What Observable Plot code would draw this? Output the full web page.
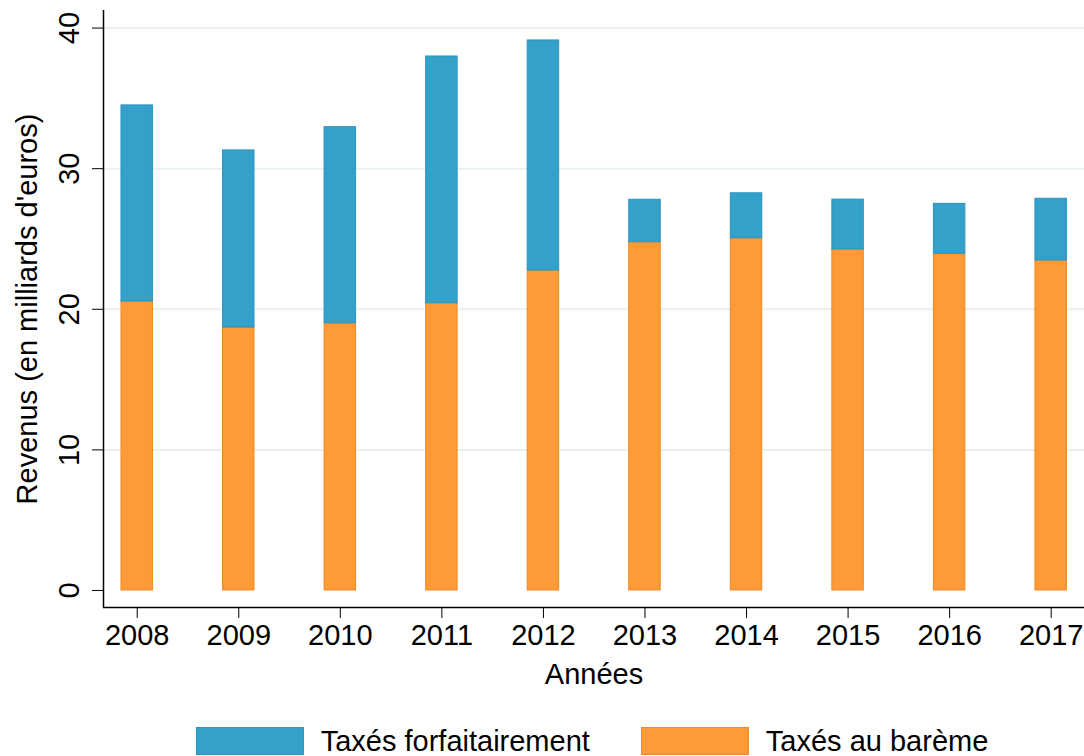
<!DOCTYPE html>
<html>
<head>
<meta charset="utf-8">
<script src="https://cdn.jsdelivr.net/npm/d3@7"></script>
<script src="https://cdn.jsdelivr.net/npm/@observablehq/plot@0.6"></script>
<style>
  body { margin: 0; background: #fff; font-family: "Liberation Sans", Arial, sans-serif; }
  #wrap { width: 1084px; }
  #legend { display: flex; justify-content: center; align-items: center; height: 30px; margin-top: 26px; font-size: 29px; color: #000; width: 1084px; padding-left: 100px; box-sizing: border-box; }
  .item { display: flex; align-items: center; }
  .sw { width: 108px; height: 28px; box-sizing: border-box; border: 1px solid; margin-right: 17px; }
  .item + .item { margin-left: 51px; }
</style>
</head>
<body>
<div id="wrap"></div>
<script>
const years = [2008, 2009, 2010, 2011, 2012, 2013, 2014, 2015, 2016, 2017];
const bareme = [20.55, 18.7, 19.0, 20.43, 22.76, 24.77, 25.05, 24.25, 23.95, 23.47];
const forfaitaire = [13.95, 12.6, 13.95, 17.55, 16.36, 3.02, 3.2, 3.55, 3.55, 4.39];
const yTicks = [0, 10, 20, 30, 40];
const seriesNames = ["Taxés forfaitairement", "Taxés au barème"];
const fillColors = ["#33a1c9", "#fe9a37"];
const strokeColors = ["#2a95c0", "#f08a22"];
const xTitle = "Années";
const yTitle = "Revenus (en milliards d'euros)";

const xDomain = [2007.668, 2017.328];
const yDomain = [-1.21, 41.25];
const halfWidth = 0.155;

const rows = years.map((year, i) => ({year, bareme: bareme[i], forfaitaire: forfaitaire[i]}));

const chart = Plot.plot({
  width: 1084,
  height: 700,
  marginTop: 10,
  marginBottom: 93,
  marginLeft: 103,
  marginRight: 0,
  style: {fontFamily: "'Liberation Sans', Arial, sans-serif", fontSize: "29px", color: "#000", background: "#fff"},
  x: {domain: xDomain},
  y: {domain: yDomain},
  marks: [
    Plot.ruleY(yTicks.filter(t => t > 0), {stroke: "#e8f0f2", strokeWidth: 2}),
    Plot.rectY(rows, {x1: d => d.year - halfWidth, x2: d => d.year + halfWidth, y1: 0, y2: "bareme", fill: fillColors[1], stroke: strokeColors[1], strokeWidth: 1}),
    Plot.rectY(rows, {x1: d => d.year - halfWidth, x2: d => d.year + halfWidth, y1: "bareme", y2: d => d.bareme + d.forfaitaire, fill: fillColors[0], stroke: strokeColors[0], strokeWidth: 1}),
    Plot.ruleY([yDomain[0]], {stroke: "#000", strokeWidth: 1.5}),
    Plot.ruleX([xDomain[0]], {stroke: "#000", strokeWidth: 1.5}),
    Plot.axisX({ticks: years, tickFormat: d => String(d), tickSize: 11, tickPadding: 6, label: null, stroke: "#000"}),
    Plot.axisY({ticks: yTicks, tickSize: 11, tickRotate: -90, tickPadding: 14, label: null, stroke: "#000"}),
    Plot.text([xTitle], {frameAnchor: "bottom", dy: 76, fontSize: 29, fill: "#000"}),
    Plot.text([yTitle], {frameAnchor: "left", dx: -76, rotate: -90, textAnchor: "middle", fontSize: 29, fill: "#000"})
  ]
});

const wrap = document.getElementById("wrap");
wrap.appendChild(chart);

const legend = document.createElement("div");
legend.id = "legend";
seriesNames.forEach((name, i) => {
  const item = document.createElement("div");
  item.className = "item";
  const sw = document.createElement("div");
  sw.className = "sw";
  sw.style.background = fillColors[i];
  sw.style.borderColor = strokeColors[i];
  const label = document.createElement("span");
  label.textContent = name;
  item.appendChild(sw);
  item.appendChild(label);
  legend.appendChild(item);
});
wrap.appendChild(legend);
</script>
</body>
</html>
